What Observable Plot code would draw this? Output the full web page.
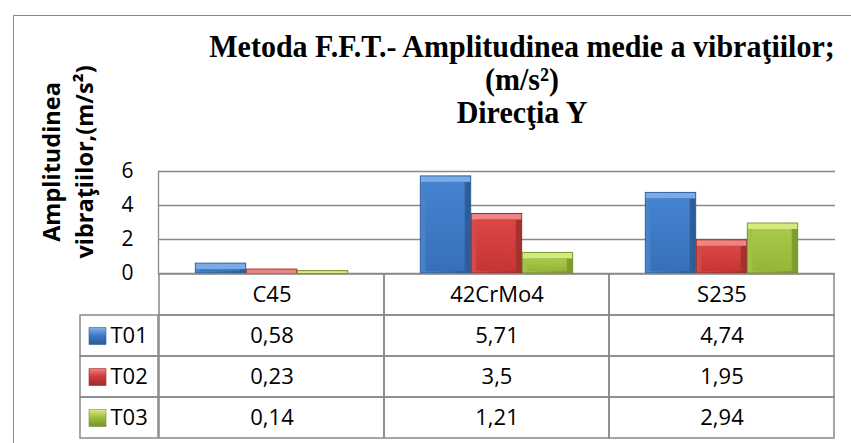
<!DOCTYPE html>
<html><head><meta charset="utf-8">
<script src="https://cdn.jsdelivr.net/npm/d3@7"></script>
<script src="https://cdn.jsdelivr.net/npm/@observablehq/plot@0.6"></script>
<style>
html,body{margin:0;padding:0;background:#fff;}
#wrap{position:relative;width:851px;height:443px;overflow:hidden;background:#fff;}
#wrap > *{position:absolute;}
</style></head><body>
<div id="wrap">
<svg width="0" height="0" style="position:absolute;left:0;top:0">
<defs>
  <linearGradient id="side-T01" x1="0" x2="1" y1="0" y2="0"><stop offset="0" stop-color="#4A85CF"/><stop offset="1" stop-color="#2B5A97"/></linearGradient>
  <linearGradient id="face-T01" x1="0" x2="0" y1="0" y2="1"><stop offset="0" stop-color="#4583D1"/><stop offset="1" stop-color="#3670B8"/></linearGradient>
  <linearGradient id="sw-T01" x1="0" x2="0" y1="0" y2="1"><stop offset="0" stop-color="#86B3EC"/><stop offset="0.45" stop-color="#3F7CC8"/><stop offset="1" stop-color="#2A5894"/></linearGradient>
  <linearGradient id="side-T02" x1="0" x2="1" y1="0" y2="0"><stop offset="0" stop-color="#D64B48"/><stop offset="1" stop-color="#A22E2C"/></linearGradient>
  <linearGradient id="face-T02" x1="0" x2="0" y1="0" y2="1"><stop offset="0" stop-color="#DA4744"/><stop offset="1" stop-color="#C73532"/></linearGradient>
  <linearGradient id="sw-T02" x1="0" x2="0" y1="0" y2="1"><stop offset="0" stop-color="#EE8583"/><stop offset="0.45" stop-color="#CF3D3A"/><stop offset="1" stop-color="#9B2D2B"/></linearGradient>
  <linearGradient id="side-T03" x1="0" x2="1" y1="0" y2="0"><stop offset="0" stop-color="#A4C44C"/><stop offset="1" stop-color="#7A9A2C"/></linearGradient>
  <linearGradient id="face-T03" x1="0" x2="0" y1="0" y2="1"><stop offset="0" stop-color="#A9C94A"/><stop offset="1" stop-color="#95B53A"/></linearGradient>
  <linearGradient id="sw-T03" x1="0" x2="0" y1="0" y2="1"><stop offset="0" stop-color="#D6EC86"/><stop offset="0.45" stop-color="#9FBF42"/><stop offset="1" stop-color="#76922C"/></linearGradient>
</defs>
</svg>
</div>
<script>
// ---- data ----
const categories = ["C45", "42CrMo4", "S235"];
const seriesNames = ["T01", "T02", "T03"];
const t01 = [0.58, 5.71, 4.74];
const t02 = [0.23, 3.5, 1.95];
const t03 = [0.14, 1.21, 2.94];
const yTicks = [0, 2, 4, 6];
const titleLines = ["Metoda F.F.T.- Amplitudinea medie a vibraţiilor;", "(m/s²)", "Direcţia Y"];
const yLabelLines = ["Amplitudinea", "vibraţiilor,(m/s²)"];

// ---- styling ----
const seriesValues = [t01, t02, t03];
const topColor = {T01: "#7AAAE8", T02: "#EE8583", T03: "#D3EA7E"};
const strokeColor = {T01: "#2F5E9A", T02: "#9B2D2B", T03: "#76922C"};
const lineColor = "#898989";
const font = "'Open Sans', sans-serif";

const W = 851, mL = 158, mR = 16;
const frameW = W - mL - mR;
const step = frameW / categories.length;
const groupW = 153;
const barW = groupW / seriesNames.length;
const groupOff = (step - groupW) / 2;

const wrap = document.getElementById("wrap");

// ---- chart ----
const barMarks = [];
seriesNames.forEach((s, k) => {
  const rows = categories.map((c, i) => ({cat: c, value: seriesValues[k][i]}));
  const iL = groupOff + k * barW, iR = step - groupOff - (k + 1) * barW;
  barMarks.push(Plot.barY(rows, {x: "cat", y: "value", insetLeft: iL, insetRight: iR,
    fill: `url(#side-${s})`, stroke: strokeColor[s], strokeWidth: 1}));
  barMarks.push(Plot.barY(rows, {x: "cat", y1: "value", y2: "value", insetLeft: iL + 0.5, insetRight: iR + 0.5,
    insetTop: 0.5, insetBottom: -6, fill: topColor[s], clip: true}));
  barMarks.push(Plot.barY(rows, {x: "cat", y: "value", insetLeft: iL + 5, insetRight: iR + 6,
    insetTop: 6, insetBottom: 2, fill: `url(#face-${s})`}));
});

const chart = Plot.plot({
  width: W, height: 276,
  marginTop: 171, marginBottom: 3, marginLeft: mL, marginRight: mR,
  style: {background: "transparent", fontFamily: font, fontSize: "21px", color: "#000", overflow: "visible"},
  x: {domain: categories, padding: 0, axis: null},
  y: {domain: [0, 6]},
  marks: [
    Plot.ruleY(yTicks, {stroke: lineColor, strokeWidth: 1.3}),
    Plot.frame({anchor: "left", stroke: lineColor, strokeWidth: 1.3}),
    Plot.axisY({ticks: yTicks, tickFormat: d => String(d), tickSize: 0, tickPadding: 25, fontSize: 21, label: null}),
    ...barMarks
  ]
});
chart.style.left = "0px"; chart.style.top = "0px";
wrap.appendChild(chart);

// ---- data table ----
const rowKeys = ["hdr", ...seriesNames];
const cells = [];
categories.forEach((c, i) => {
  cells.push({row: "hdr", cat: c, text: c});
  seriesNames.forEach((s, k) => cells.push({row: s, cat: c, text: String(seriesValues[k][i]).replace(".", ",")}));
});
const legendRows = seriesNames.map(s => ({row: s}));

const table = Plot.plot({
  width: W, height: 169,
  marginTop: 1, marginBottom: 2, marginLeft: mL, marginRight: mR,
  style: {background: "transparent", fontFamily: font, fontSize: "22px", color: "#000", overflow: "visible"},
  x: {domain: categories, padding: 0, axis: null},
  y: {domain: rowKeys, padding: 0, axis: null},
  marks: [
    Plot.cell(cells, {x: "cat", y: "row", fill: "none", stroke: lineColor, strokeWidth: 1.5}),
    Plot.cell(legendRows, {y: "row", fill: "none", stroke: lineColor, strokeWidth: 1.5, insetLeft: -78, insetRight: frameW}),
    Plot.text(cells, {x: "cat", y: "row", text: "text", fontSize: 22, fill: "#000"}),
    ...seriesNames.map(s => Plot.dot(legendRows.filter(d => d.row === s), {y: "row", frameAnchor: "left", dx: -61,
      symbol: "square", r: 9.6, fill: `url(#sw-${s})`, stroke: strokeColor[s], strokeWidth: 0.6})),
    Plot.text(legendRows, {y: "row", text: "row", frameAnchor: "left", textAnchor: "start", dx: -48, fontSize: 22, fill: "#000"})
  ]
});
table.style.left = "0px"; table.style.top = "272px";
wrap.appendChild(table);

// ---- titles ----
const ov = d3.create("svg").attr("width", W).attr("height", 276).style("left", "0px").style("top", "0px");
const tbase = [57, 90, 123];
titleLines.forEach((t, i) => ov.append("text").attr("transform", `translate(522,${tbase[i]}) scale(1,1.06)`).attr("text-anchor", "middle")
  .attr("font-family", "'Liberation Serif', 'Times New Roman', serif").attr("font-weight", "bold").attr("font-size", 30).text(t));
const lx = [60, 93];
yLabelLines.forEach((t, i) => ov.append("text").attr("transform", `translate(${lx[i]},162) rotate(-90)`).attr("text-anchor", "middle")
  .attr("font-family", font).attr("font-weight", "bold").attr("font-size", 23.5).text(t));
wrap.appendChild(ov.node());

// ---- outer border ----
const border = document.createElement("div");
Object.assign(border.style, {left: "13px", top: "15px", width: "900px", height: "500px",
  borderLeft: "1.5px solid #8a8a8a", borderTop: "1.5px solid #8a8a8a", pointerEvents: "none", zIndex: 5});
wrap.appendChild(border);
</script>
</body></html>
